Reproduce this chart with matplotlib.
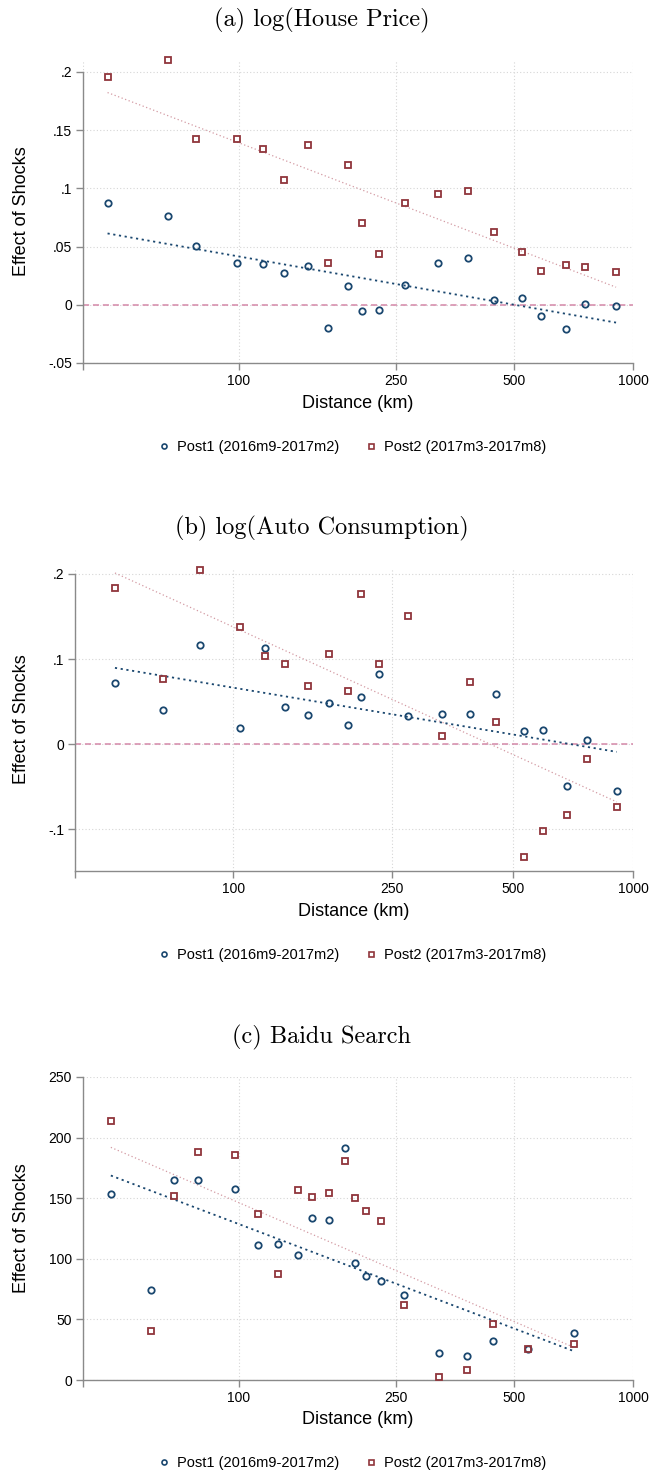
import numpy as np
import matplotlib
matplotlib.use("Agg")
import matplotlib.pyplot as plt
from matplotlib.lines import Line2D

# ---- data ----
# (a) log(House Price)
dist_a = [46.4, 66.1, 77.6, 98.8, 115.1, 130.2, 149.8, 167.9, 189.5, 205.3,
          226.2, 263.4, 319.7, 380.5, 443.4, 524.0, 585.7, 674.2, 755.0, 905.7]
post1_a = [0.0877, 0.0765, 0.0504, 0.0355, 0.0347, 0.0275, 0.0332, -0.0201, 0.0163, -0.0052,
           -0.0046, 0.0172, 0.0355, 0.0398, 0.0040, 0.0060, -0.0095, -0.0206, 0.0003, -0.0014]
post2_a = [0.1960, 0.2103, 0.1421, 0.1424, 0.1338, 0.1072, 0.1375, 0.0355, 0.1200, 0.0699,
           0.0433, 0.0871, 0.0948, 0.0980, 0.0622, 0.0456, 0.0292, 0.0344, 0.0324, 0.0284]

# (b) log(Auto Consumption)
dist_b = [50.6, 66.6, 82.4, 104.1, 120.2, 134.5, 153.7, 173.2, 193.8, 208.7,
          231.2, 273.4, 333.3, 392.1, 454.7, 532.3, 595.6, 684.0, 767.0, 911.0]
post1_b = [0.0721, 0.0405, 0.1170, 0.0187, 0.1127, 0.0437, 0.0339, 0.0480, 0.0226, 0.0550,
           0.0819, 0.0327, 0.0359, 0.0351, 0.0593, 0.0156, 0.0164, -0.0491, 0.0047, -0.0550]
post2_b = [0.1840, 0.0764, 0.2050, 0.1372, 0.1041, 0.0947, 0.0682, 0.1057, 0.0620, 0.1762,
           0.0947, 0.1505, 0.0094, 0.0725, 0.0257, -0.1330, -0.1018, -0.0830, -0.0179, -0.0733]

# (c) Baidu Search
dist_c = [47.3, 59.8, 68.4, 78.9, 97.8, 111.5, 125.5, 141.3, 153.5, 169.1,
          186.3, 196.9, 210.2, 230.0, 262.8, 321.4, 379.6, 442.2, 543.0, 709.2]
post1_c = [153.1, 74.1, 164.9, 165.2, 157.2, 111.5, 112.3, 103.5, 133.8, 132.4,
           191.4, 96.6, 85.6, 81.5, 69.9, 22.0, 20.1, 32.2, 25.9, 38.5]
post2_c = [213.4, 40.2, 152.0, 188.0, 185.8, 136.8, 87.3, 157.0, 150.6, 154.5,
           180.9, 150.3, 139.3, 131.3, 62.2, 2.5, 8.3, 46.0, 25.6, 29.7]

titles = ["(a) log(House Price)", "(b) log(Auto Consumption)", "(c) Baidu Search"]
xticks = [100, 250, 500, 1000]
xtick_labels = ["100", "250", "500", "1000"]
yticks_a = [-0.05, 0, 0.05, 0.1, 0.15, 0.2]
ylabels_a = ["-.05", "0", ".05", ".1", ".15", ".2"]
yticks_b = [-0.1, 0, 0.1, 0.2]
ylabels_b = ["-.1", "0", ".1", ".2"]
yticks_c = [0, 50, 100, 150, 200, 250]
ylabels_c = ["0", "50", "100", "150", "200", "250"]
legend_labels = ["Post1 (2016m9-2017m2)", "Post2 (2017m3-2017m8)"]

BLUE = "#1a476f"
RED = "#90353b"
REDLINE = "#d39aa3"
ZERO = "#d488a8"
AXIS = "#8a8a8a"
GRID = "#d6d6d6"

W, H = 650, 1476
fig = plt.figure(figsize=(W / 100, H / 100), dpi=100)
plt.rcParams["font.family"] = ["Liberation Sans", "DejaVu Sans"]


def px_axes(left, top, right, bottom):
    return fig.add_axes([left / W, 1 - bottom / H, (right - left) / W, (bottom - top) / H])


def panel(ax, dist, p1, p2, yticks, ylabels, ylim, xmin, zero_line):
    dist = np.asarray(dist)
    ax.set_xscale("log")
    ax.set_xlim(xmin, 1000)
    ax.set_ylim(*ylim)
    ax.minorticks_off()
    ax.set_xticks([xmin] + xticks)
    ax.set_xticklabels([""] + xtick_labels)
    ax.set_yticks(yticks)
    ax.set_yticklabels(ylabels)
    ax.tick_params(axis="both", colors=AXIS, labelcolor="black", labelsize=10,
                   length=5, width=1, pad=3)
    ax.grid(True, color=GRID, linestyle=(0, (1, 2)), linewidth=0.8)
    ax.set_axisbelow(True)
    for s in ["top", "right"]:
        ax.spines[s].set_visible(False)
    for s in ["left", "bottom"]:
        ax.spines[s].set_color(AXIS)
        ax.spines[s].set_linewidth(1)
    ax.spines["left"].set_bounds(ylim[0], yticks[-1])
    if zero_line:
        ax.axhline(0, color=ZERO, linestyle=(0, (4, 2.5)), linewidth=1.1, zorder=1)

    # linear fits in log distance
    xs = np.array([dist.min(), dist.max()])
    b1 = np.polyfit(np.log10(dist), p1, 1)
    b2 = np.polyfit(np.log10(dist), p2, 1)
    ax.plot(xs, np.polyval(b2, np.log10(xs)), color=REDLINE, linestyle=(0, (1, 2)),
            linewidth=0.9, zorder=2)
    ax.plot(xs, np.polyval(b1, np.log10(xs)), color=BLUE, linestyle=(0, (1.2, 2)),
            linewidth=1.3, zorder=2)

    ax.plot(dist, p1, linestyle="none", marker="o", ms=4.6, mfc="none", mec=BLUE,
            mew=1.3, zorder=3, clip_on=False)
    ax.plot(dist, p2, linestyle="none", marker="s", ms=4.4, mfc="none", mec=RED,
            mew=1.3, zorder=3, clip_on=False)


layout = [
    # left, top, right, bottom, title_y, xlabel_y, legend_y
    (83, 60, 633, 363, 20, 404, 447),
    (75, 568, 633, 871, 528, 912, 955),
    (83, 1077, 633, 1380, 1037, 1420, 1463),
]
datasets = [
    (dist_a, post1_a, post2_a, yticks_a, ylabels_a, (-0.05, 0.2103), True),
    (dist_b, post1_b, post2_b, yticks_b, ylabels_b, (-0.149, 0.207), True),
    (dist_c, post1_c, post2_c, yticks_c, ylabels_c, (0, 250), False),
]

handles = [
    Line2D([], [], linestyle="none", marker="o", ms=3.6, mfc="none", mec=BLUE, mew=1.2),
    Line2D([], [], linestyle="none", marker="s", ms=3.6, mfc="none", mec=RED, mew=1.2),
]

for (l, t, r, b, ty, xly, lgy), (d, p1, p2, yt, yl, ylim, zl), title in zip(layout, datasets, titles):
    ax = px_axes(l, t, r, b)
    panel(ax, d, p1, p2, yt, yl, ylim, 40.2, zl)
    fig.text(322 / W, 1 - ty / H, title, family="cmr10", fontsize=17.5,
             ha="center", va="center")
    fig.text((l + r) / 2 / W, 1 - xly / H, "Distance (km)", fontsize=13,
             ha="center", va="center")
    fig.text(22 / W, 1 - (t + b) / 2 / H, "Effect of Shocks", fontsize=13,
             rotation=90, ha="center", va="center")
    fig.legend(handles, legend_labels, loc="center", bbox_to_anchor=(352 / W, 1 - lgy / H),
               ncol=2, frameon=False, fontsize=10.5, handlelength=0.8,
               handletextpad=0.5, columnspacing=1.8)

fig.savefig("out.png", dpi=100)
